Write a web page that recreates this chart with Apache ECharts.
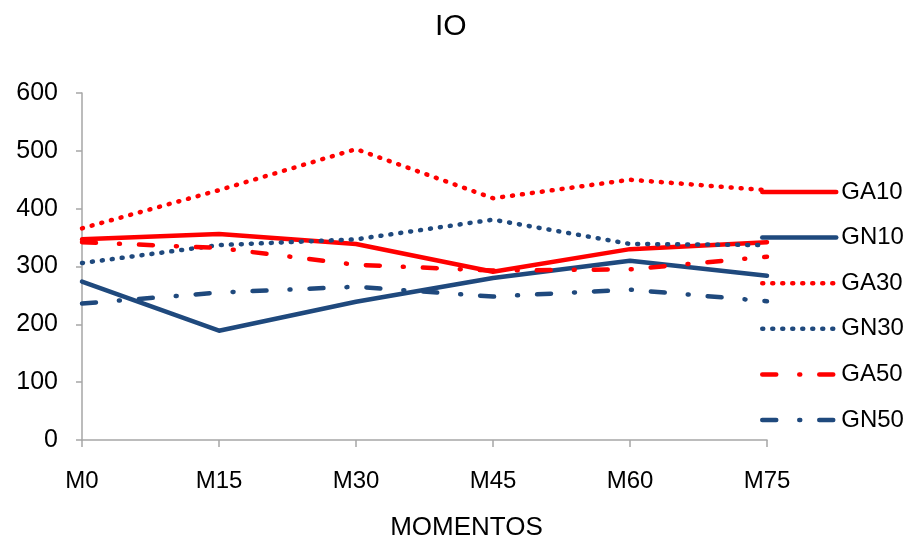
<!DOCTYPE html>
<html>
<head>
<meta charset="utf-8">
<script src="https://cdn.jsdelivr.net/npm/echarts@6/dist/echarts.min.js"></script>
<style>
  html, body { margin: 0; padding: 0; background: #fff; }
  #chart { width: 910px; height: 540px; }
</style>
</head>
<body>
<div id="chart"></div>
<script>
// Time points on the x axis
const momentos = ['M0', 'M15', 'M30', 'M45', 'M60', 'M75'];

// IO values per group
const GA10 = [347, 356, 339, 291, 330, 342];
const GN10 = [274, 189, 239, 280, 310, 284];
const GA30 = [366, 432, 503, 418, 450, 432];
const GN30 = [306, 337, 347, 381, 339, 337];
const GA50 = [342, 332, 303, 293, 295, 317];
const GN50 = [236, 255, 265, 248, 260, 240];

const RED = '#ff0000';
const BLUE = '#1f497d';
const DOT = [1, 9];
const DASH_DOT = [14, 23, 1, 19];
const FONT = 'Liberation Sans, Arial, sans-serif';

function lineSeries(name, data, color, type) {
  return {
    name: name,
    type: 'line',
    data: data,
    symbol: 'none',
    showSymbol: false,
    lineStyle: { color: color, width: 4.5, type: type, cap: 'round', join: 'round' },
    itemStyle: { color: color },
    emphasis: { disabled: true }
  };
}

const chart = echarts.init(document.getElementById('chart'));
chart.setOption({
  animation: false,
  backgroundColor: '#fff',
  textStyle: { fontFamily: FONT, color: '#000' },
  title: {
    text: 'IO',
    left: 430,
    top: 7,
    textStyle: { fontSize: 30, fontWeight: 'normal', color: '#000', fontFamily: FONT }
  },
  legend: {
    orient: 'vertical',
    left: 755,
    top: 175,
    itemWidth: 74,
    itemHeight: 24,
    itemGap: 21.6,
    itemStyle: { opacity: 0 },
    lineStyle: { width: 4.5 },
    textStyle: { fontSize: 24, color: '#000', lineHeight: 24 },
    data: ['GA10', 'GN10', 'GA30', 'GN30', 'GA50', 'GN50']
  },
  grid: { left: 82, top: 93, width: 685, height: 347, containLabel: false, outerBoundsMode: 'none' },
  xAxis: {
    type: 'category',
    data: momentos,
    boundaryGap: false,
    name: 'MOMENTOS',
    nameLocation: 'middle',
    nameGap: 75,
    nameTextStyle: { fontSize: 26, color: '#000', padding: [0, 0, 0, 84] },
    axisLine: { lineStyle: { color: '#a6a6a6', width: 1.5 } },
    axisTick: { show: true, length: 7, lineStyle: { color: '#a6a6a6', width: 1.5 } },
    axisLabel: { fontSize: 24, color: '#000', margin: 29 },
    splitLine: { show: false }
  },
  yAxis: {
    type: 'value',
    min: 0,
    max: 600,
    interval: 100,
    axisLine: { show: true, lineStyle: { color: '#a6a6a6', width: 1.5 } },
    axisTick: { show: true, length: 6, lineStyle: { color: '#a6a6a6', width: 1.5 } },
    axisLabel: { fontSize: 25, color: '#000', margin: 24 },
    splitLine: { show: false }
  },
  series: [
    lineSeries('GA10', GA10, RED, 'solid'),
    lineSeries('GN10', GN10, BLUE, 'solid'),
    lineSeries('GA30', GA30, RED, DOT),
    lineSeries('GN30', GN30, BLUE, DOT),
    lineSeries('GA50', GA50, RED, DASH_DOT),
    lineSeries('GN50', GN50, BLUE, DASH_DOT)
  ]
});
</script>
</body>
</html>
